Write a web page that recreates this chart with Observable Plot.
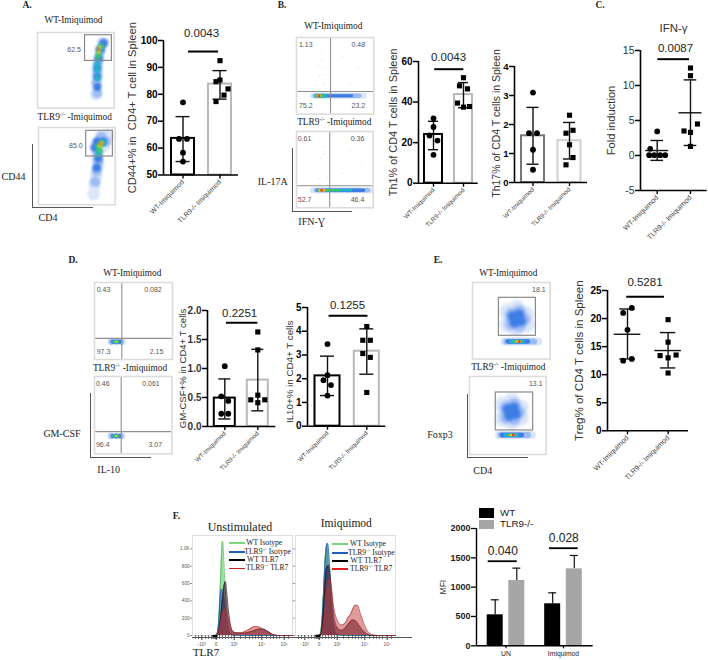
<!DOCTYPE html>
<html><head><meta charset="utf-8">
<script src="https://cdn.jsdelivr.net/npm/d3@7"></script>
<script src="https://cdn.jsdelivr.net/npm/@observablehq/plot@0.6"></script>
<style>
html,body{margin:0;padding:0;background:#fff}
#page{position:relative;width:708px;height:660px;overflow:hidden}
#page svg{position:absolute;overflow:visible;background:transparent}
.t{position:absolute;white-space:nowrap;line-height:1;transform:translate(-50%,-50%)}
.t sup{font-size:.6em;line-height:0}
.l{position:absolute}
</style></head><body><div id="page"></div>
<script>
// ---------- DATA ----------
const groupNames = ["WT-Imiquimod", "TLR9-/- Imiquimod"];
// A. CD44+%
const aWt = [77, 63.4, 63.4, 58.3, 55], aWtJit = [0, -4, 4, 0, 0];
const aKo = [92.5, 84.7, 85.3, 82, 79.7, 77.3], aKoJit = [0, -4, 0, 8, 4, -4];
const aMean = [63.6, 83.8], aLo = [55, 78.2], aHi = [71.7, 88.8];
// B. Th1
const b1Wt = [32, 27.7, 23.5, 21, 14], b1WtJit = [0, 0, -4, 4, 0];
const b1Ko = [52, 48, 46.5, 39.5, 37.5, 37.8], b1KoJit = [0, -4, 4, -6, 0, 6];
const b1Mean = [24, 43.7], b1Lo = [16.5, 37.2], b1Hi = [30.5, 49.6];
// B. Th17
const b2Wt = [3.1, 1.7, 1.7, 1.13, 0.44], b2WtJit = [0, -4, 4, 0, 0];
const b2Ko = [2.32, 1.8, 1.7, 1.3, 0.86, 0.61], b2KoJit = [0, 3.5, -3.5, 0, 3.5, -3.5];
const b2Mean = [1.61, 1.44], b2Lo = [0.63, 0.81], b2Hi = [2.59, 2.07];
// C. IFN-gamma
const cWt = [3.43, 0.95, 0.05, 0.05, 0.05, 0.05], cWtJit = [0, -7, -8, -3, 3, 8];
const cKo = [12.5, 11.4, 4.5, 3.5, 3.3, 1.3], cKoJit = [0, 0, 7, -6.5, 0, 0];
const cMean = [0.71, 6.1], cLo = [-0.7, 1.43], cHi = [2.14, 10.8];
// D. GM-CSF
const d1Wt = [1.04, 0.52, 0.44, 0.22, 0.22], d1WtJit = [0, -3.5, 3.5, -3.5, 3.5];
const d1Ko = [1.63, 1.32, 0.54, 0.46, 0.46, 0.41], d1KoJit = [0, 0, 0, -7, 7, 0];
const d1Mean = [0.49, 0.8], d1Lo = [0.13, 0.27], d1Hi = [0.82, 1.33];
// D. IL10
const d2Wt = [3.46, 2.15, 1.94, 1.73, 1.29], d2WtJit = [0, 0, -4, 3.5, 0];
const d2Ko = [4.2, 3.62, 3.62, 3.06, 2.9, 1.42], d2KoJit = [0, -4, 3.5, -4, 3.5, 0];
const d2Mean = [2.12, 3.16], d2Lo = [1.29, 2.19], d2Hi = [2.95, 4.1];
// E. Treg
const eWt = [21.9, 21, 18, 12.8, 12.5], eWtJit = [4.3, -4.3, 0, 4.3, -4.3];
const eKo = [19.8, 15.8, 13.4, 13.5, 13, 10.3], eKoJit = [0, 0, -8, 8, 0, 0];
const eMean = [17.2, 14.3], eLo = [12.8, 11.2], eHi = [21.7, 17.5];
// F. MFI
const fGroups = ["UN", "Imiquimod"];
const fWtMean = [528, 716], fWtHi = [784, 903];
const fKoMean = [1113, 1312], fKoHi = [1324, 1540];
// F. TLR7 histograms (channel, count)
const uGreen = [[20,0],[22,0],[24,10],[26,150],[28,650],[30,1088],[32,700],[34,280],[36,80],[38,20],[42,5],[50,0],[100,0]];
const uBlue = [[20,0],[24,5],[26,120],[28,480],[29,538],[30,500],[32,380],[34,200],[36,70],[38,20],[42,0],[100,0]];
const uBlack = [[20,0],[24,0],[26,40],[28,200],[30,430],[32,600],[33,620],[34,520],[36,280],[38,120],[40,50],[44,30],[50,25],[55,35],[60,50],[65,70],[70,75],[75,50],[80,15],[85,0],[100,0]];
const uRed = [[20,0],[24,0],[26,30],[28,130],[30,250],[32,305],[34,280],[36,180],[38,100],[40,50],[44,30],[50,35],[55,60],[60,95],[63,105],[67,95],[72,60],[77,25],[82,5],[86,0],[100,0]];
const iGreen = [[20,0],[24,5],[26,120],[28,500],[30,950],[32,1058],[34,800],[36,350],[38,100],[40,30],[44,0],[100,0]];
const iBlue = [[20,0],[25,10],[27,250],[29,720],[31,1040],[32,1065],[34,800],[36,400],[38,120],[40,30],[44,5],[50,0],[100,0]];
const iBlack = [[20,0],[25,5],[27,150],[29,500],[31,780],[33,808],[35,640],[37,370],[39,180],[42,90],[46,60],[50,90],[54,150],[57,180],[60,170],[64,110],[68,50],[72,15],[76,0],[100,0]];
const iRed = [[20,0],[25,0],[27,60],[29,220],[31,480],[33,640],[34,662],[36,540],[38,340],[40,230],[43,150],[46,120],[50,150],[53,215],[55,240],[57,300],[60,350],[62,345],[65,250],[68,150],[71,70],[74,25],[78,5],[82,0],[100,0]];
const histMajor = [9.3, 23.7, 41.7, 69.3, 91.7];
const histMajorLabels = ["-10³", "0", "10³", "10⁴", "10⁵"];
const histMinor = [3, 6, 13, 16, 19, 27, 30, 33, 36, 39, 48, 53, 57, 60, 63, 66, 74, 78, 81, 84, 87, 96];
const histCounts = [0, 200, 400, 600, 800, 1000];
const histCountLabels = ["0", "200", "400", "600", "800", "1.0K"];
// flow-cytometry density summaries: [x %, y %, density level]
const a1Events = [[76,82,1],[77,70,1],[78,58,1],[78,46,1],[80,34,1],[82,22,1],[85,14,1],[78,80,2],[77,66,2],[78,52,2],[79,38,2],[82,24,2],[86,14,2],[78,72,3],[78,58,3],[78,46,3],[80,34,3],[82,22,3],[86,14,3],[78,60,4],[78,50,4],[78,42,4],[80,30,4],[83,20,4],[79,32,5],[80,25,5],[83,18,5],[80,26,6],[81,20,6],[80,22,7]];
const a2Events = [[72,86,1],[73,74,1],[75,62,1],[77,50,1],[76,38,1],[85,24,1],[75,24,1],[82,12,1],[90,10,1],[74,70,2],[76,56,2],[78,44,2],[78,32,2],[74,26,2],[88,18,2],[82,12,2],[76,52,3],[78,40,3],[74,26,3],[84,18,3],[76,18,3],[78,34,4],[78,26,4],[84,20,4],[80,30,5],[78,24,5],[82,20,5],[80,24,6],[82,20,6],[81,21,7]];
// density bands: [x from %, x to %, y %, density level, band weight]
const b1Tails = [[22,88,76,1,6],[24,82,76,2,4.5],[26,72,76,3,3],[26,38,76,4,4],[27,33,76,5,3],[28,31,76,6,2.5]];
const b2Tails = [[22,97,77,1,6],[26,94,77,2,4.5],[28,88,77,3,3.5],[29,72,77,4,2.6],[30,55,77,5,2],[31,36,77,6,3]];
const b1Peak = [[29,76,7]], b2Peak = [[33,77,7]];
const b1Specks = [[32,30],[34,40],[30,50],[36,60],[28,35],[60,25],[80,40],[70,60],[33,20],[26,62],[38,48]];
const b2Specks = [[36,30],[38,40],[34,50],[40,60],[32,35],[70,25],[85,45],[60,55],[36,20],[30,62]];
const d1Events = [[21,77,1],[28,77,1],[36,77,1],[22,77,2],[28,77,2],[34,77,2],[24,77,3],[28,77,3],[32,77,3],[25,77,4],[29,77,4],[27,77,5],[30,77,5],[28,77,6]];
const d2Events = [[21,77,1],[28,77,1],[36,77,1],[22,77,2],[28,77,2],[34,77,2],[24,77,3],[28,77,3],[32,77,3],[25,77,4],[29,77,4],[27,77,5],[30,77,5],[28,77,6]];
const e1Upper = [[45,38,1],[57,33,1],[69,42,1],[45,55,1],[57,60,1],[70,55,1],[50,42,2],[60,38,2],[66,48,2],[50,54,2],[60,56,2],[52,44,3],[60,42,3],[62,50,3],[54,52,3],[57,47,3]];
const e1Tails = [[42,85,77,1,8],[44,80,77,2,6],[46,72,77,3,4.5],[50,66,77,4,3.5],[54,63,77,5,2.5],[57,62,77,6,1.8]];
const e1Peak = [[60,77,7]];
const e2Upper = [[43,36,1],[55,31,1],[67,40,1],[43,54,1],[55,58,1],[67,53,1],[48,40,2],[58,36,2],[64,46,2],[48,52,2],[58,54,2],[50,42,3],[58,40,3],[60,48,3],[52,50,3],[55,46,3]];
const e2Tails = [[39,82,75,1,8],[41,77,75,2,6],[43,69,75,3,4.5],[47,63,75,4,3.5],[51,60,75,5,2.5],[54,59,75,6,1.8]];
const e2Peak = [[57,75,7]];

// ---------- HELPERS ----------
const page = document.getElementById("page");
const SANS = "'Liberation Sans',Arial,sans-serif", SERIF = "'Liberation Serif','Times New Roman',serif";
function place(svg, left, top) { svg.style.left = left + "px"; svg.style.top = top + "px"; page.appendChild(svg); }
function txt(html, x, y, size = 10, opts = {}) {
  const d = document.createElement("div"); d.className = "t"; d.innerHTML = html;
  d.style.cssText = `left:${x}px;top:${y}px;font-size:${size}px;font-family:${opts.font || SERIF};color:${opts.color || "#222"};font-weight:${opts.weight || "normal"};` + (opts.start ? "transform:translate(0,-50%);" : "");
  page.appendChild(d);
}
function line(x, y, w, h, color) {
  const d = document.createElement("div"); d.className = "l";
  d.style.cssText = `left:${x}px;top:${y}px;width:${w}px;height:${h}px;background:${color}`;
  page.appendChild(d);
}
function gateAxes(x, y0, y1, x1) { line(x, y0, 1, y1 - y0, "#555"); line(x, y1, x1 - x, 1, "#555"); }

function groupChart(c) {
  const mL = 46, mR = 6, mT = 34, mB = 58;
  const span = c.c1 - c.c0;
  const idx = px => (px - c.c0) / span;
  const rows = (vals, jit, i) => vals.map((v, k) => ({ x: i + jit[k] / span, y: v }));
  const g0 = rows(c.wt, c.wtJit, 0), g1 = rows(c.ko, c.koJit, 1);
  const xDomain = [idx(c.left), idx(c.right)];
  const stats = [0, 1].map(i => ({ i, m: c.mean[i], lo: c.lo[i], hi: c.hi[i] }));
  const cap = c.cap / span, half = (c.half || 11.5) / span, mh = (c.meanHalf || 12) / span;
  const marks = [];
  if (c.bars) marks.push(Plot.rectY(stats, {
    x1: d => d.i - half, x2: d => d.i + half, y1: c.y[0], y2: "m", fill: "none",
    stroke: d => c.bars[d.i], strokeWidth: 2 }));
  else marks.push(Plot.ruleY(stats, { x1: d => d.i - mh, x2: d => d.i + mh, y: "m", stroke: "#111", strokeWidth: 1.4 }));
  marks.push(
    Plot.ruleX(stats, { x: "i", y1: "lo", y2: "hi", stroke: "#111", strokeWidth: 1.4 }),
    Plot.ruleY(stats, { x1: d => d.i - cap, x2: d => d.i + cap, y: "lo", stroke: "#111", strokeWidth: 1.4 }),
    Plot.ruleY(stats, { x1: d => d.i - cap, x2: d => d.i + cap, y: "hi", stroke: "#111", strokeWidth: 1.4 }),
    Plot.dot(g0, { x: "x", y: "y", r: 2.9, fill: "#000", symbol: "circle" }),
    Plot.dot(g1, { x: "x", y: "y", r: 2.9, fill: "#000", symbol: "square" }),
    Plot.ruleX([xDomain[0]], { stroke: c.axisColor || "#000", strokeWidth: 1.6 }),
    Plot.ruleY([c.y[0]], { stroke: c.axisColor || "#000", strokeWidth: 1.6 }),
    Plot.axisY({ ticks: c.ticks, tickSize: 5, tickPadding: 1, strokeWidth: 1.5, stroke: c.axisColor || "#000", label: null,
      fontSize: c.tickFont || 10, fontWeight: c.tickWeight || "bold", fontFamily: SANS, tickFormat: c.tickFormat || (d => String(d)), color: c.tickColor || "#000" }),
    Plot.axisX({ ticks: [0, 1], tickSize: 4, tickPadding: 2, strokeWidth: 1.4, stroke: "#000", label: null,
      tickFormat: d => groupNames[d], tickRotate: -45, fontSize: c.xFont || 6.8, fontFamily: SANS, color: "#444" }),
    Plot.text([c.label], { frameAnchor: "left", textAnchor: "middle", rotate: -90, dx: c.labelDx, dy: c.labelDy || 0, fontSize: c.labelFont || 10.7, fontFamily: SANS, fill: "#333" })
  );
  if (c.p) marks.push(
    Plot.ruleY([c.p.barY], { x1: c.p.x1, x2: c.p.x2, stroke: "#000", strokeWidth: 2 }),
    Plot.text([c.p.text], { x: c.p.tx, y: c.p.ty, fontSize: 11.5, fontFamily: SANS, fill: "#222" })
  );
  if (c.title) marks.push(Plot.text([c.title.text], { x: c.title.x, y: c.title.y, fontSize: 11.5, fontFamily: SANS, fill: "#333" }));
  const svg = Plot.plot({
    width: c.right - c.left + mL + mR, height: c.bottom - c.top + mT + mB,
    marginLeft: mL, marginRight: mR, marginTop: mT, marginBottom: mB,
    x: { domain: xDomain, axis: null }, y: { domain: c.y, axis: null }, marks, style: { background: "transparent", overflow: "visible" }
  });
  place(svg, c.left - mL, c.top - mT);
}

const levelColor = [null, "#dbe6f9", "#9dbbf3", "#3f7de6", "#22b4c8", "#44c850", "#efd020", "#e8402a"];
const levelR = [0, 7, 5.8, 4.6, 3.6, 2.8, 2.1, 1.5];
function blobMarks(events, s, blur) {
  return [1, 2, 3, 4, 5, 6, 7].map(L => Plot.dot(events.filter(e => e[2] === L), {
    x: d => d[0], y: d => d[1], r: levelR[L] * s, fill: levelColor[L], imageFilter: `blur(${blur}px)` }));
}
function tailMarks(tails, blur) {
  return tails.map(t => Plot.ruleY([t[2]], { x1: t[0], x2: t[1], stroke: levelColor[t[3]], strokeWidth: t[4], strokeLinecap: "round", imageFilter: `blur(${blur}px)` }));
}
function flow(f) {
  const marks = [];
  (f.blobs || []).forEach(b => marks.push(...blobMarks(b[0], b[1], b[2] || 1)));
  if (f.tails) marks.push(...tailMarks(f.tails, 0.6));
  if (f.peak) marks.push(...blobMarks(f.peak, 1, 0.5));
  if (f.specks) marks.push(Plot.dot(f.specks, { x: d => d[0], y: d => d[1], r: 0.7, fill: "#dbe5f5" }));
  if (f.gate) marks.push(Plot.rect([f.gate], { x1: d => d[0], x2: d => d[1], y1: d => d[2], y2: d => d[3], fill: "none", stroke: "#8a8a8a", strokeWidth: 1.2 }));
  if (f.quad) marks.push(Plot.ruleX([f.quad[0]], { stroke: "#8f8f8f", strokeWidth: 1.1 }), Plot.ruleY([f.quad[1]], { stroke: "#8f8f8f", strokeWidth: 1.1 }));
  marks.push(Plot.frame({ stroke: "#dcdcdc", strokeWidth: 1.6 }));
  marks.push(Plot.text(f.labels, { x: d => d[1], y: d => d[2], text: d => d[0], fontSize: 7, fontFamily: SANS, fill: "#555" }));
  const svg = Plot.plot({ width: f.w, height: f.h, margin: 0, x: { domain: [0, 100], axis: null }, y: { domain: [100, 0], axis: null },
    marks, style: { background: "transparent" } });
  place(svg, f.x, f.y);
}
function hist(h) {
  const mk = (arr, fill, stroke, op) => [
    Plot.areaY(arr, { x: d => d[0], y: d => d[1], fill, fillOpacity: op, curve: "monotone-x" }),
    Plot.lineY(arr, { x: d => d[0], y: d => d[1], stroke, strokeWidth: 0.7, curve: "monotone-x" })];
  const svg = Plot.plot({
    width: h.w + h.mL + h.mR, height: 100 + 2 + 14, marginLeft: h.mL, marginRight: h.mR, marginTop: 2, marginBottom: 14,
    x: { domain: [0, 100], axis: null }, y: { domain: [0, 1154], axis: null },
    marks: [
      Plot.frame({ stroke: "#dedede", strokeWidth: 1 }),
      ...mk(h.green, "#79d67f", "#4caf50", 0.75),
      ...mk(h.blue, "#2b63b8", "#1f5fc0", 0.6),
      ...mk(h.black, "#3c0f2a", "#201020", 0.62),
      ...mk(h.red, "#c23a3a", "#b03030", 0.5),
      Plot.axisX({ ticks: histMajor, tickSize: 5, tickPadding: 2, stroke: "#000", strokeWidth: 0.8, label: null,
        tickFormat: d => histMajorLabels[histMajor.indexOf(d)], fontSize: 4.8, fontFamily: SANS, color: "#555" }),
      Plot.axisX({ ticks: histMinor, tickSize: 4, stroke: "#222", strokeWidth: 0.6, label: null, tickFormat: () => "" }),
      Plot.axisX({ ticks: [h.zero], tickSize: 3.5, stroke: "#000", strokeWidth: 5, label: null, tickFormat: () => "" }),
      Plot.axisY({ ticks: histCounts, tickSize: 2, tickPadding: 1, stroke: "#666", strokeWidth: 0.7, label: null, fontSize: h.labels ? 4.6 : 0,
        tickFormat: d => h.labels ? histCountLabels[histCounts.indexOf(d)] : "", fontFamily: SANS, color: "#555" })
    ], style: { background: "transparent", overflow: "visible" }
  });
  place(svg, h.x - h.mL, h.y - 2);
}

// ---------- PANEL A ----------
txt("A.", 27, 6, 9.5, { weight: "bold" });
txt("WT-Imiquimod", 73.5, 20.7, 9.3);
flow({ x: 37.3, y: 32.3, w: 76.7, h: 75.7, gate: [62, 97, 3.6, 37.5], blobs: [[a1Events, 0.85]], labels: [["62.5", 47.8, 23.4]] });
txt("TLR9<sup>-/-</sup> -Imiquimod", 74.7, 118, 9.3);
flow({ x: 38.3, y: 126.7, w: 76.7, h: 77.3, gate: [62.2, 97, 4.3, 37.5], blobs: [[a2Events, 0.9]], labels: [["85.0", 48.7, 23.7]] });
gateAxes(31.5, 144, 206.7, 92.7);
txt("CD44", 13.5, 177, 10); txt("CD4", 48, 218, 10);
groupChart({ left: 163, right: 238, top: 40, bottom: 174.5, c0: 182.5, c1: 219.5, y: [50, 100], ticks: [50, 60, 70, 80, 90, 100],
  wt: aWt, wtJit: aWtJit, ko: aKo, koJit: aKoJit, mean: aMean, lo: aLo, hi: aHi, bars: ["#000", "#b9b9b9"], cap: 7,
  label: "CD44+% in  CD4+ T cell in Spleen", labelDx: -31, xFont: 7, labelFont: 11.2,
  p: { text: "0.0043", barY: 95.9, x1: 0.15, x2: 0.96, tx: 0.5, ty: 102.6 } });

// ---------- PANEL B ----------
txt("B.", 282, 5.5, 9.5, { weight: "bold" });
txt("WT-Imiquimod", 333.3, 26.7, 9.3);
flow({ x: 296, y: 36.7, w: 77.3, h: 76.6, quad: [44, 70.5], tails: b1Tails, peak: b1Peak, specks: b1Specks,
  labels: [["1.13", 12, 10], ["0.48", 80, 10], ["75.2", 12, 89], ["23.2", 80, 89]] });
txt("TLR9<sup>-/-</sup> -Imiquimod", 334.3, 123.3, 9.3);
flow({ x: 296, y: 131, w: 76.7, h: 76.3, quad: [43.3, 71.2], tails: b2Tails, peak: b2Peak, specks: b2Specks,
  labels: [["0.61", 10.5, 10], ["0.36", 79.5, 10], ["52.7", 10.5, 89], ["46.4", 79.5, 89]] });
gateAxes(291.5, 147.7, 211, 352.3);
txt("IL-17A", 272.7, 181.7, 10); txt("IFN-Ɣ", 311.7, 222, 10);
groupChart({ left: 418, right: 477.7, top: 61, bottom: 182.7, c0: 433, c1: 463, y: [0, 60], ticks: [0, 20, 40, 60],
  wt: b1Wt, wtJit: b1WtJit, ko: b1Ko, koJit: b1KoJit, mean: b1Mean, lo: b1Lo, hi: b1Hi, bars: ["#000", "#b9b9b9"], half: 9, cap: 5,
  label: "Th1% of CD4 T cells in Spleen", labelDx: -25, xFont: 6.3, labelFont: 10.9,
  p: { text: "0.0043", barY: 56.2, x1: 0.04, x2: 1.01, tx: 0.5, ty: 62 } });
groupChart({ left: 514, right: 587, top: 65.7, bottom: 181.7, c0: 532.5, c1: 569, y: [0, 4], ticks: [0, 1, 2, 3, 4],
  wt: b2Wt, wtJit: b2WtJit, ko: b2Ko, koJit: b2KoJit, mean: b2Mean, lo: b2Lo, hi: b2Hi, bars: ["#777", "#cfcfcf"], cap: 6,
  label: "Th17% of CD4 T cells in Spleen", labelDx: -18, xFont: 6.3, labelFont: 10.5, tickFont: 9.5, labelDy: -1 });

// ---------- PANEL C ----------
txt("C.", 600, 6, 9.5, { weight: "bold" });
groupChart({ left: 640, right: 706.7, top: 50, bottom: 190, c0: 656.7, c1: 690, y: [-5, 15], ticks: [-5, 0, 5, 10, 15], tickWeight: "normal", tickColor: "#333", tickFont: 10.5,
  wt: cWt, wtJit: cWtJit, ko: cKo, koJit: cKoJit, mean: cMean, lo: cLo, hi: cHi, cap: 6.3, meanHalf: 11.5,
  label: "Fold induction", labelDx: -29.5, xFont: 7.2, labelFont: 11.2,
  p: { text: "0.0087", barY: 13.76, x1: 0.02, x2: 0.97, tx: 0.55, ty: 15.3 }, title: { text: "IFN-γ", x: 0.49, y: 18.1 } });

// ---------- PANEL D ----------
txt("D.", 73, 261, 9.5, { weight: "bold" });
txt("WT-Imiquimod", 132.3, 274, 9.3);
flow({ x: 94.3, y: 281.7, w: 78, h: 77, quad: [35, 72.6], blobs: [[d1Events, 0.5, 0.7]],
  labels: [["0.43", 11.5, 10], ["0.082", 75, 10], ["97.3", 11.5, 90], ["2.15", 79.5, 90]] });
txt("TLR9<sup>-/-</sup> -Imiquimod", 130, 369, 9.3);
flow({ x: 94.3, y: 376, w: 77.4, h: 77.3, quad: [34.5, 71.3], blobs: [[d2Events, 0.5, 0.7]],
  labels: [["0.46", 10.7, 9.7], ["0.061", 73, 9.7], ["96.4", 10.7, 88.8], ["3.07", 78.5, 88.8]] });
gateAxes(90, 393.3, 456.7, 150.7);
txt("GM-CSF", 62, 434, 10); txt("IL-10", 108.7, 470, 10);
groupChart({ left: 206.7, right: 275, top: 310, bottom: 426, c0: 224, c1: 257, y: [0, 2], ticks: [0, 0.5, 1, 1.5, 2], tickFormat: d => d.toFixed(1), tickColor: "#333",
  wt: d1Wt, wtJit: d1WtJit, ko: d1Ko, koJit: d1KoJit, mean: d1Mean, lo: d1Lo, hi: d1Hi, bars: ["#000", "#b9b9b9"], half: 10.5, cap: 6,
  label: "GM-CSF+% in CD4+ T cells", labelDx: -25, xFont: 6.3, labelFont: 9.6,
  p: { text: "0.2251", barY: 1.79, x1: 0.05, x2: 1.0, tx: 0.45, ty: 1.95 } });
groupChart({ left: 306.7, right: 385, top: 307.3, bottom: 426, c0: 326.7, c1: 366, y: [0, 5], ticks: [0, 1, 2, 3, 4, 5],
  wt: d2Wt, wtJit: d2WtJit, ko: d2Ko, koJit: d2KoJit, mean: d2Mean, lo: d2Lo, hi: d2Hi, bars: ["#000", "#b9b9b9"], half: 12.5, cap: 7,
  label: "IL10+% in CD4+ T cells", labelDx: -17.5, labelDy: 5, xFont: 6.3, labelFont: 9.8,
  p: { text: "0.1255", barY: 4.65, x1: 0.04, x2: 1.03, tx: 0.51, ty: 5.1 } });

// ---------- PANEL E ----------
txt("E.", 438, 261, 9.5, { weight: "bold" });
txt("WT-Imiquimod", 508.3, 274, 9.3);
flow({ x: 472.3, y: 281.7, w: 77.7, h: 76.6, gate: [34, 81.6, 20, 69.6], blobs: [[e1Upper, 1.15, 1.6]], tails: e1Tails, peak: e1Peak, labels: [["18.1", 85.5, 9.4]] });
txt("TLR9<sup>-/-</sup> -Imiquimod", 508.3, 368, 9.3);
flow({ x: 469.3, y: 376, w: 76.7, h: 78, gate: [34.3, 83, 20.5, 69.2], blobs: [[e2Upper, 1.15, 1.6]], tails: e2Tails, peak: e2Peak, labels: [["13.1", 86.4, 9.4]] });
gateAxes(467.3, 394, 456.7, 527.7);
txt("Foxp3", 440, 435, 10); txt("CD4", 482.7, 470.7, 10);
groupChart({ left: 606.7, right: 687.7, top: 290, bottom: 430.3, c0: 626.7, c1: 667.3, y: [0, 25], ticks: [0, 5, 10, 15, 20, 25],
  wt: eWt, wtJit: eWtJit, ko: eKo, koJit: eKoJit, mean: eMean, lo: eLo, hi: eHi, cap: 7.7, meanHalf: 13.3,
  label: "Treg% of CD4 T cells in Spleen", labelDx: -28.5, xFont: 7.2, labelFont: 11.6,
  p: { text: "0.5281", barY: 23.9, x1: -0.02, x2: 0.91, tx: 0.43, ty: 26.5 } });

// ---------- PANEL F ----------
txt("F.", 176.5, 516.7, 9.5, { weight: "bold" });
txt("Unstimulated", 240, 527, 12);
txt("Imiquimod", 346.3, 524.3, 11.5);
hist({ x: 192.3, y: 535, w: 100, mL: 24, mR: 0, labels: true, zero: 22.5, green: uGreen, blue: uBlue, black: uBlack, red: uRed });
hist({ x: 295, y: 535, w: 100, mL: 4, mR: 4, labels: false, zero: 22.5, green: iGreen, blue: iBlue, black: iBlack, red: iRed });
line(191.7, 636.5, 220, 1.6, "#555");
txt("TLR7", 206, 652.5, 11.2);
const legLeft = [["WT Isotype", "#79d67f", 542.7, 246.3], ["TLR9<sup>-/-</sup> Isotype", "#1f5fc0", 551.7, 244.3], ["WT TLR7", "#000", 560, 247], ["TLR9<sup>-/-</sup> TLR7", "#c42020", 568.3, 246]];
legLeft.forEach(r => { line(229, r[2] - 0.8, 15.5, 1.7, r[1]); txt(r[0], r[3], r[2], 7.6, { start: true }); });
const legRight = [["WT Isotype", "#79d67f", 544, 350], ["TLR9<sup>-/-</sup> Isotype", "#1f5fc0", 552.7, 348], ["WT TLR7", "#000", 561, 350.5], ["TLR9<sup>-/-</sup> TLR7", "#e02020", 569, 350]];
legRight.forEach(r => { line(332.3, r[2] - 0.8, 16, 1.7, r[1]); txt(r[0], r[3], r[2], 7.6, { start: true }); });

(function () {
  const left = 476, right = 592.7, top = 528, bottom = 645.3, mL = 34, mR = 4, mT = 22, mB = 14;
  const c0 = 505.5, span = 57.5, bw = 8 / span, off = 0.188;
  const xDomain = [(left - c0) / span, (right - c0) / span];
  const wtRows = fGroups.map((g, i) => ({ i: i - off, m: fWtMean[i], h: fWtHi[i] }));
  const koRows = fGroups.map((g, i) => ({ i: i + off, m: fKoMean[i], h: fKoHi[i] }));
  const all = wtRows.concat(koRows), cap = 4 / span;
  const pBars = [{ t: "0.040", y: 1442, x1: -0.31, x2: 0.195, tx: -0.055, ty: 1613 }, { t: "0.028", y: 1664, x1: 0.757, x2: 1.256, tx: 1.005, ty: 1835 }];
  const svg = Plot.plot({
    width: right - left + mL + mR, height: bottom - top + mT + mB, marginLeft: mL, marginRight: mR, marginTop: mT, marginBottom: mB,
    x: { domain: xDomain, axis: null }, y: { domain: [0, 2000], axis: null }, style: { background: "transparent", overflow: "visible" },
    marks: [
      Plot.ruleX(all, { x: "i", y1: "m", y2: "h", stroke: "#111", strokeWidth: 1.2 }),
      Plot.ruleY(all, { x1: d => d.i - cap, x2: d => d.i + cap, y: "h", stroke: "#111", strokeWidth: 1.2 }),
      Plot.rectY(wtRows, { x1: d => d.i - bw, x2: d => d.i + bw, y1: 0, y2: "m", fill: "#000" }),
      Plot.rectY(koRows, { x1: d => d.i - bw, x2: d => d.i + bw, y1: 0, y2: "m", fill: "#a6a6a6" }),
      Plot.ruleX([xDomain[0]], { stroke: "#000", strokeWidth: 1.4 }),
      Plot.ruleY([0], { stroke: "#000", strokeWidth: 1.4 }),
      Plot.axisY({ ticks: [0, 500, 1000, 1500, 2000], tickSize: 5, tickPadding: 1, stroke: "#000", strokeWidth: 1.3, label: null, fontSize: 9, fontWeight: "bold", fontFamily: SANS, tickFormat: d => String(d), color: "#222" }),
      Plot.axisX({ ticks: [0, 1], tickSize: 3, tickPadding: 2, stroke: "#000", strokeWidth: 1.2, label: null, tickFormat: d => fGroups[d], fontSize: 6.8, fontFamily: SANS, color: "#222" }),
      Plot.text(["MFI"], { frameAnchor: "left", textAnchor: "middle", rotate: -90, dx: -33, fontSize: 8.5, fontFamily: SANS, fill: "#333" }),
      Plot.ruleY(pBars, { x1: "x1", x2: "x2", y: "y", stroke: "#000", strokeWidth: 1.8 }),
      Plot.text(pBars, { x: "tx", y: "ty", text: "t", fontSize: 12, fontFamily: SANS, fill: "#222" })
    ]
  });
  place(svg, left - mL, top - mT);
})();
line(479.3, 508.3, 14.7, 9.4, "#000");
line(479.3, 520, 14.7, 9, "#a6a6a6");
txt("WT", 500, 512.7, 9.8, { font: SANS, start: true });
txt("TLR9-/-", 500, 524.3, 9.8, { font: SANS, start: true });
</script></body></html>
